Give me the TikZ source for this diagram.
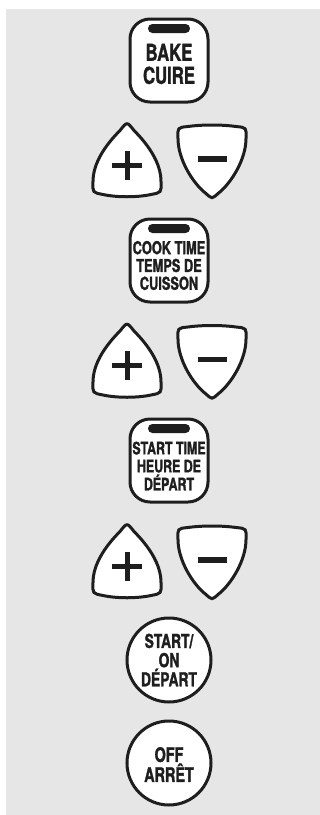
\documentclass[tikz,border=0pt]{standalone}
\usepackage{fontspec}
\setmainfont{TeX Gyre Heros}[FakeStretch=0.72,BoldFeatures={FakeBold=1.4}]
\usetikzlibrary{positioning}
\definecolor{panelgray}{RGB}{230,230,230}
\definecolor{keyblack}{RGB}{30,30,30}
\tikzset{
  keysq/.style={draw=keyblack,fill=white,line width=1.5pt,rounded corners=10pt,
    minimum width=39pt,minimum height=41.5pt,inner sep=0pt},
  keyround/.style={draw=keyblack,fill=white,line width=1.5pt,circle,
    minimum size=42pt,inner sep=0pt},
  slot/.style={fill=keyblack,rounded corners=2.2pt,minimum width=21pt,
    minimum height=4.5pt,inner sep=0pt},
  keytxt/.style={font=\bfseries,align=center,text=keyblack,inner sep=0pt},
  keyline/.style={draw=keyblack,fill=white,line width=1.5pt},
  plusbtn/.pic={
    \path[keyline] (-7,-31) .. controls (0,-40) .. (7,-31)
      .. controls (22,-16) and (34,2) .. (34,20)
      .. controls (34.5,31) .. (24,33)
      .. controls (10,36) and (-10,36) .. (-24,33)
      .. controls (-34.5,31) .. (-34,20)
      .. controls (-34,2) and (-22,-16) .. (-7,-31) -- cycle;
    \fill[keyblack] (-15,1) rectangle (15,6);
    \fill[keyblack] (-2.5,-11) rectangle (2.5,18);
  },
  minusbtn/.pic={
    \path[keyline] (-24,-35) .. controls (-10,-37) and (10,-37) .. (24,-35)
      .. controls (34.5,-34) .. (34,-23)
      .. controls (34,-2) and (19,22) .. (6,32)
      .. controls (0,37.5) .. (-6,32)
      .. controls (-19,22) and (-34,-2) .. (-34,-23)
      .. controls (-34.5,-34) .. (-24,-35) -- cycle;
    \fill[keyblack] (-14.5,-5.5) rectangle (14.5,0);
  },
}

\begin{document}
\begin{tikzpicture}[x=0.5pt,y=-0.5pt]
  % panel
  \fill[white] (0,0) rectangle (320,815);
  \useasboundingbox (0,0) rectangle (320,815);
  \fill[panelgray] (6,9) rectangle (320,815);

  % bake
  \node[keysq] at (169,60.5)(bake){};
  \node[slot] at ([yshift=16pt]bake.center)(bakeslot){};
  \node[keytxt,font=\fontsize{11.6}{11.5}\selectfont\bfseries]
        at ([yshift=-1.75pt]bake.center)(baketxt){BAKE\\CUIRE};
  \pic (bakeplus) at (127,161.5) {plusbtn};
  \pic (bakeminus) at (212,161.5) {minusbtn};

  % cook time
  \node[keysq] at (169,260.5)(cook){};
  \node[slot] at ([yshift=16pt]cook.center)(cookslot){};
  \node[keytxt,font=\fontsize{8.9}{8.9}\selectfont\bfseries]
        at ([yshift=-2.5pt]cook.center)(cooktxt){COOK TIME\\TEMPS DE\\CUISSON};
  \pic (cookplus) at (127,362) {plusbtn};
  \pic (cookminus) at (212,362) {minusbtn};

  % start time
  \node[keysq] at (169,460.5)(stime){};
  \node[slot] at ([yshift=16pt]stime.center)(stimeslot){};
  \node[keytxt,font=\fontsize{8.6}{9}\selectfont\bfseries]
        at ([yshift=-2.75pt]stime.center)(stimetxt){START TIME\\HEURE DE\\DÉPART};
  \pic (stimeplus) at (127,562.5) {plusbtn};
  \pic (stimeminus) at (212,562.5) {minusbtn};

  % start / off
  \node[keyround] at (169,660)(start){};
  \node[keytxt,font=\fontsize{9.6}{9.6}\selectfont\bfseries]
        at (start.center)(starttxt){START/\\ON\\DÉPART};
  \node[keyround] at (169,763)(off){};
  \node[keytxt,font=\fontsize{10}{10}\selectfont\bfseries]
        at ([yshift=-0.75pt]off.center)(offtxt){OFF\\ARRÊT};
\end{tikzpicture}
\end{document}
